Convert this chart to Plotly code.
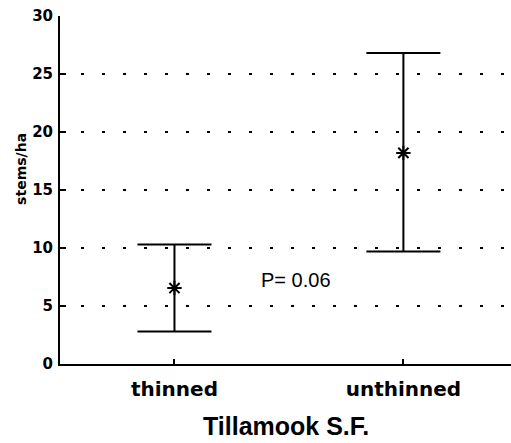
import plotly.graph_objects as go

categories = ["thinned", "unthinned"]
means = [6.55, 18.2]
upper = [10.3, 26.8]
lower = [2.8, 9.7]
y_ticks = [0, 5, 10, 15, 20, 25, 30]
p_text = "P= 0.06"
x_title = "Tillamook S.F."
y_title = "stems/ha"

xpos = [1, 2]
err_plus = [u - m for u, m in zip(upper, means)]
err_minus = [m - l for m, l in zip(means, lower)]

fig = go.Figure()
fig.add_trace(go.Scatter(
    x=xpos, y=means, mode="markers",
    marker=dict(symbol="asterisk-open", size=12, color="black",
                line=dict(color="black", width=2)),
    error_y=dict(type="data", array=err_plus, arrayminus=err_minus,
                 symmetric=False, color="black", thickness=2, width=37),
    showlegend=False,
))

fig.update_layout(
    width=511, height=443,
    margin=dict(l=60, r=0, t=16, b=79),
    paper_bgcolor="white", plot_bgcolor="white",
    xaxis=dict(
        range=[0.5, 2.47], tickvals=xpos,
        ticktext=[f"<b>{c}</b>" for c in categories],
        ticks="inside", ticklen=5, tickwidth=2, tickcolor="black",
        showline=True, linecolor="black", linewidth=2,
        showgrid=False, zeroline=False,
        tickfont=dict(family="DejaVu Sans", size=20, color="black"),
        ticklabelstandoff=6,
    ),
    yaxis=dict(
        range=[0, 30], tickvals=y_ticks,
        ticktext=[f"<b>{v}</b>" for v in y_ticks],
        ticks="inside", ticklen=6, tickwidth=2, tickcolor="black",
        showline=True, linecolor="black", linewidth=2,
        showgrid=True, gridcolor="black", gridwidth=2, griddash="3px,18px",
        zeroline=False,
        tickfont=dict(family="DejaVu Sans", size=15, color="black"),
        ticklabelstandoff=2,
    ),
    annotations=[
        dict(text=p_text, x=1.53, y=7.25, xref="x", yref="y", showarrow=False,
             font=dict(family="Liberation Sans", size=20, color="black"),
             xanchor="center", yanchor="middle"),
        dict(text=f"<b>{x_title}</b>", x=0.5, y=-0.178, xref="paper", yref="paper",
             showarrow=False,
             font=dict(family="Liberation Sans", size=25, color="black"),
             xanchor="center", yanchor="middle"),
        dict(text=f"<b>{y_title}</b>", x=-0.087, y=0.56, xref="paper", yref="paper",
             showarrow=False, textangle=-90,
             font=dict(family="DejaVu Sans", size=14, color="black"),
             xanchor="center", yanchor="middle"),
    ],
)

fig.write_html("out.html")
